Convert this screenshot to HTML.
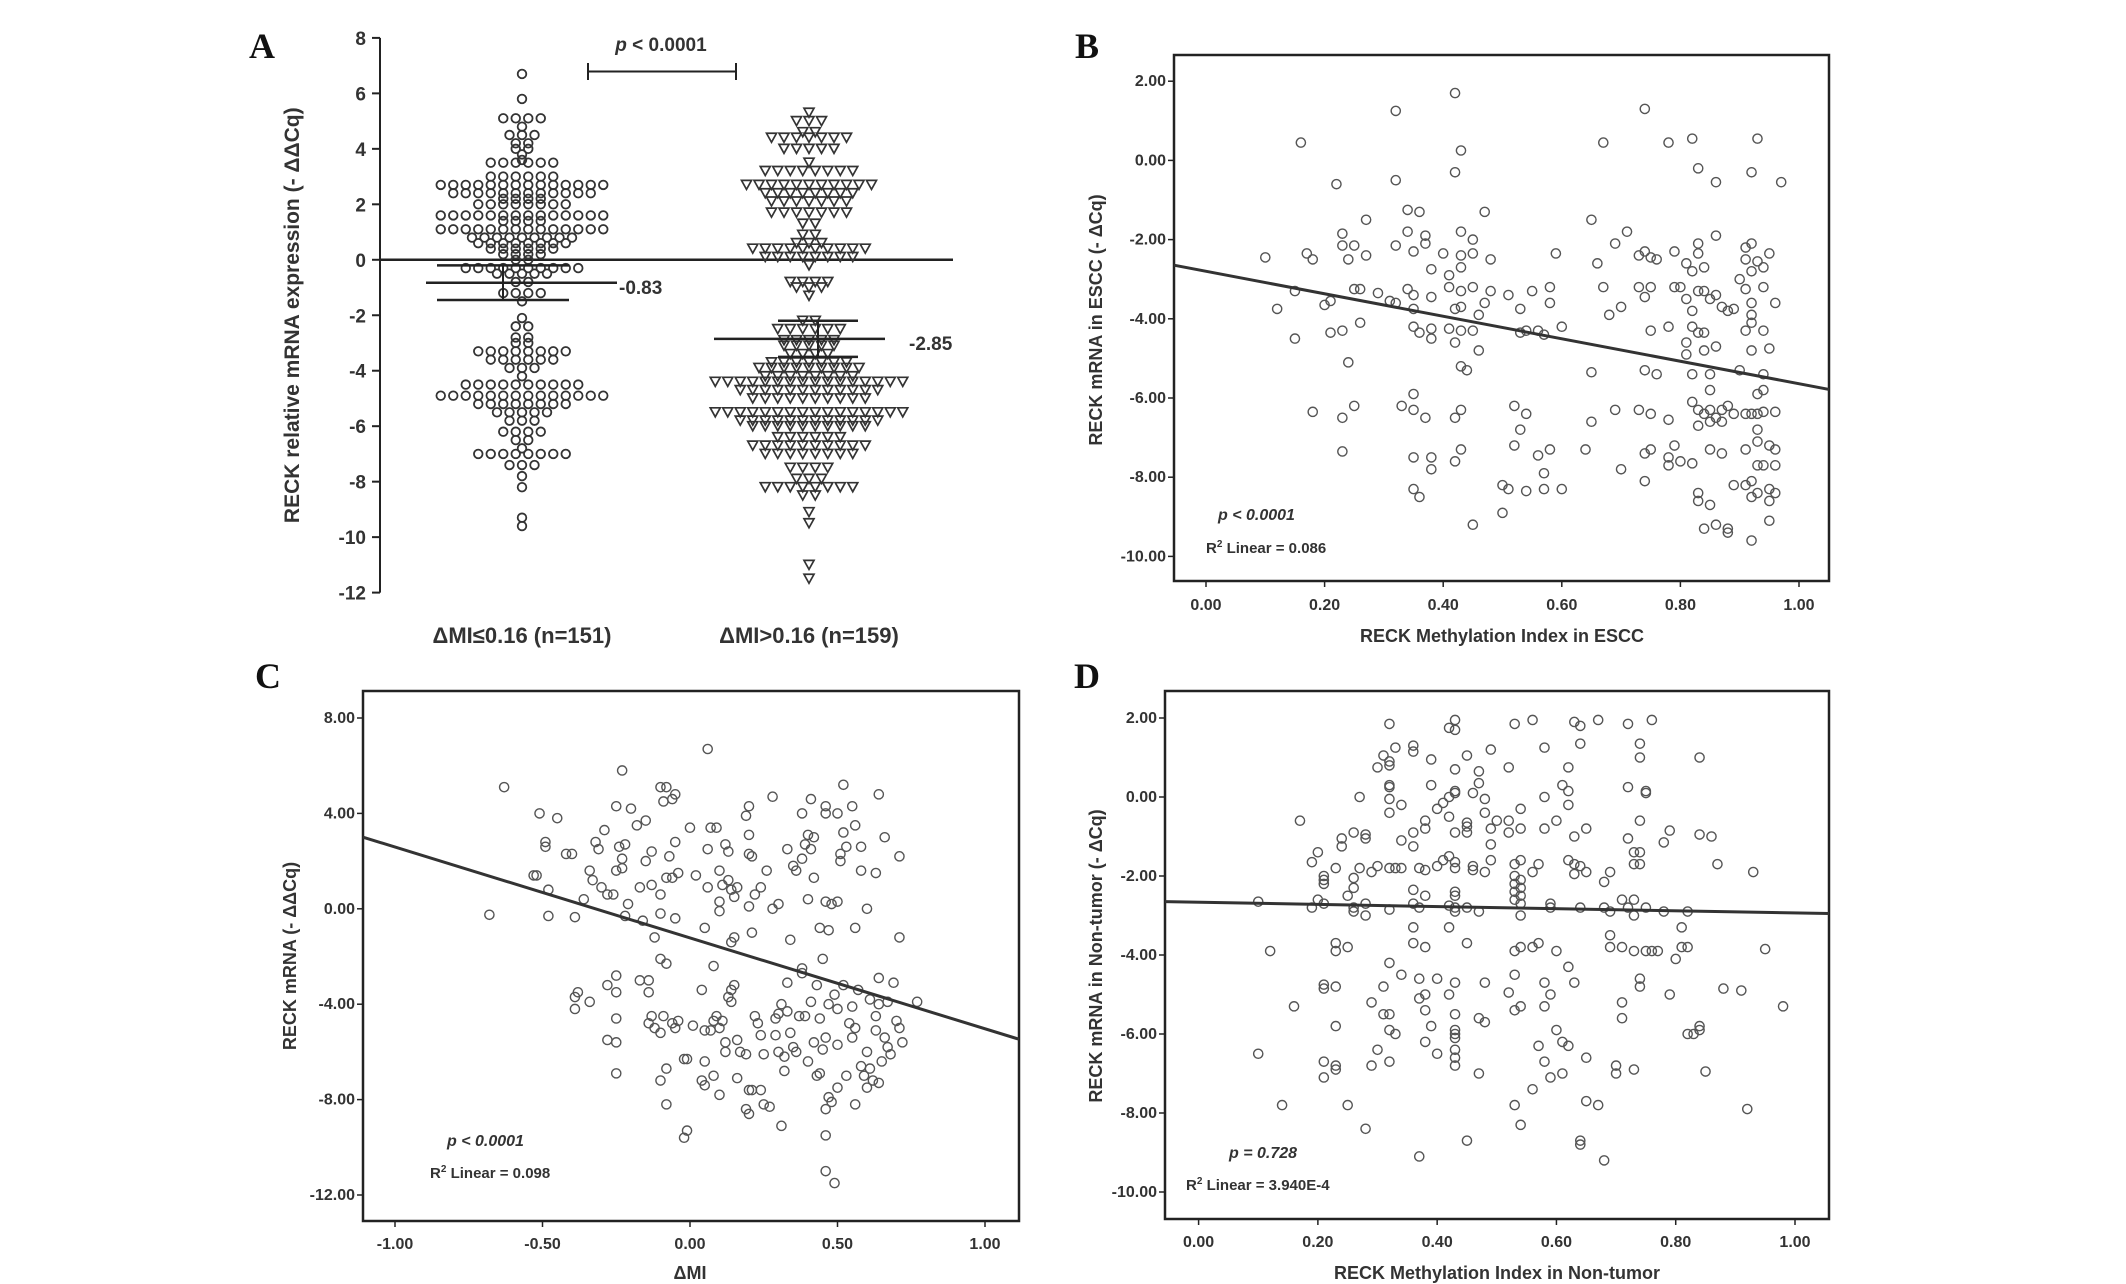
<!DOCTYPE html>
<html><head><meta charset="utf-8"><title>RECK expression vs methylation</title>
<style>
html,body{margin:0;padding:0;background:#fff;}
svg{display:block;font-family:"Liberation Sans",sans-serif;}
.tk{font-size:16px;font-weight:bold;fill:#333;}
.ttl{font-size:18px;font-weight:bold;fill:#333;}
.pl{font-family:"Liberation Serif",serif;font-size:36px;font-weight:bold;fill:#111;}
</style></head>
<body>
<svg id="fig" width="2126" height="1284" viewBox="0 0 2126 1284" xmlns="http://www.w3.org/2000/svg">
<rect width="2126" height="1284" fill="#fff"/>
<g id="pA"></g>
<g id="pB"></g>
<g id="pC"></g>
<g id="pD"></g>
</svg>
<script>
// ---------- Panel A data ----------
const aLevels1 = [6.7,5.8,5.1,4.8,4.5,4.2,4.0,3.8,3.6,3.5,3.0,2.7,2.4,2.2,2.0,1.6,1.4,1.1,0.8,0.6,0.4,0.2,0.0,-0.3,-0.5,-0.8,-1.2,-1.5,-2.1,-2.4,-2.8,-3.0,-3.3,-3.6,-3.9,-4.2,-4.5,-4.9,-5.2,-5.5,-5.8,-6.2,-6.5,-6.8,-7.0,-7.4,-7.8,-8.2,-9.3,-9.6];
const aCounts1 = [1,1,4,1,3,2,2,1,1,6,6,14,12,4,8,14,4,14,9,8,6,4,2,10,5,2,4,1,1,2,2,2,8,6,3,1,10,14,8,5,3,4,2,1,8,3,1,1,1,1];
const aLevels2 = [5.3,5.0,4.6,4.4,4.0,3.5,3.2,2.7,2.4,2.1,1.7,1.3,0.9,0.6,0.4,0.1,-0.2,-0.8,-1.0,-1.3,-2.2,-2.5,-2.9,-3.1,-3.4,-3.7,-3.9,-4.2,-4.4,-4.7,-5.0,-5.5,-5.8,-6.0,-6.4,-6.7,-7.0,-7.5,-7.9,-8.2,-8.5,-9.1,-9.5,-11.0,-11.5];
const aCounts2 = [1,3,2,7,5,1,8,11,8,7,7,2,2,3,10,8,1,4,3,1,2,6,5,5,4,7,9,8,16,12,10,16,12,10,6,10,8,4,3,8,2,1,1,1,1];
const aMeans = [-0.83,-2.85];
const aSemHi = [-0.2,-2.2];
const aSemLo = [-1.45,-3.5];
const aMeanLabels = ["-0.83","-2.85"];
const aCategories = ["ΔMI≤0.16 (n=151)","ΔMI>0.16 (n=159)"];
const aTicks = [8,6,4,2,0,-2,-4,-6,-8,-10,-12];

// ---------- Panel B data ----------
const bX = [0.42,0.32,0.74,0.16,0.43,0.67,0.78,0.82,0.93,0.42,0.32,0.22,0.83,0.86,0.92,0.97,0.34,0.36,0.27,0.47,0.65,0.71,0.86,0.23,0.34,0.37,0.43,0.45,0.23,0.25,0.32,0.37,0.69,0.83,0.92,0.91,0.10,0.17,0.18,0.24,0.27,0.35,0.40,0.43,0.45,0.48,0.59,0.73,0.74,0.75,0.76,0.79,0.83,0.91,0.93,0.95,0.66,0.38,0.41,0.43,0.81,0.82,0.84,0.92,0.94,0.90,0.15,0.25,0.26,0.29,0.31,0.32,0.34,0.35,0.38,0.41,0.43,0.45,0.48,0.51,0.55,0.58,0.67,0.73,0.75,0.79,0.80,0.81,0.83,0.84,0.85,0.86,0.91,0.94,0.74,0.12,0.20,0.21,0.35,0.42,0.43,0.46,0.47,0.53,0.58,0.68,0.70,0.82,0.87,0.88,0.89,0.92,0.92,0.96,0.15,0.21,0.23,0.26,0.35,0.36,0.38,0.38,0.41,0.43,0.45,0.42,0.46,0.53,0.54,0.56,0.57,0.60,0.75,0.78,0.82,0.83,0.84,0.84,0.81,0.81,0.86,0.91,0.92,0.94,0.92,0.95,0.24,0.43,0.44,0.65,0.74,0.76,0.82,0.85,0.90,0.94,0.94,0.85,0.93,0.35,0.18,0.23,0.25,0.33,0.35,0.37,0.42,0.43,0.52,0.54,0.65,0.69,0.73,0.75,0.78,0.82,0.83,0.84,0.85,0.86,0.87,0.88,0.89,0.91,0.92,0.93,0.94,0.96,0.83,0.85,0.87,0.93,0.53,0.23,0.35,0.38,0.42,0.43,0.52,0.56,0.58,0.64,0.74,0.75,0.78,0.79,0.80,0.82,0.85,0.87,0.91,0.93,0.95,0.96,0.93,0.94,0.96,0.78,0.38,0.57,0.70,0.74,0.35,0.36,0.50,0.51,0.54,0.57,0.60,0.83,0.89,0.91,0.92,0.92,0.93,0.95,0.96,0.83,0.85,0.95,0.45,0.50,0.84,0.86,0.88,0.88,0.92,0.95];
const bY = [1.7,1.25,1.3,0.45,0.25,0.45,0.45,0.55,0.55,-0.3,-0.5,-0.6,-0.2,-0.55,-0.3,-0.55,-1.25,-1.3,-1.5,-1.3,-1.5,-1.8,-1.9,-1.85,-1.8,-1.9,-1.8,-2.0,-2.15,-2.15,-2.15,-2.1,-2.1,-2.1,-2.1,-2.2,-2.45,-2.35,-2.5,-2.5,-2.4,-2.3,-2.35,-2.4,-2.35,-2.5,-2.35,-2.4,-2.3,-2.45,-2.5,-2.3,-2.35,-2.5,-2.55,-2.35,-2.6,-2.75,-2.9,-2.7,-2.6,-2.8,-2.7,-2.8,-2.7,-3.0,-3.3,-3.25,-3.25,-3.35,-3.55,-3.6,-3.25,-3.4,-3.45,-3.2,-3.3,-3.2,-3.3,-3.4,-3.3,-3.2,-3.2,-3.2,-3.2,-3.2,-3.2,-3.5,-3.3,-3.3,-3.5,-3.4,-3.25,-3.2,-3.45,-3.75,-3.65,-3.55,-3.75,-3.75,-3.7,-3.9,-3.6,-3.75,-3.6,-3.9,-3.7,-3.8,-3.7,-3.8,-3.75,-3.6,-3.9,-3.6,-4.5,-4.35,-4.3,-4.1,-4.2,-4.35,-4.25,-4.5,-4.25,-4.3,-4.3,-4.6,-4.8,-4.35,-4.3,-4.3,-4.4,-4.2,-4.3,-4.2,-4.2,-4.35,-4.35,-4.8,-4.6,-4.9,-4.7,-4.3,-4.1,-4.3,-4.8,-4.75,-5.1,-5.2,-5.3,-5.35,-5.3,-5.4,-5.4,-5.4,-5.3,-5.4,-5.8,-5.8,-5.9,-5.9,-6.35,-6.5,-6.2,-6.2,-6.3,-6.5,-6.5,-6.3,-6.2,-6.4,-6.6,-6.3,-6.3,-6.4,-6.55,-6.1,-6.3,-6.4,-6.3,-6.5,-6.3,-6.2,-6.4,-6.4,-6.4,-6.4,-6.35,-6.35,-6.7,-6.6,-6.6,-6.8,-6.8,-7.35,-7.5,-7.5,-7.6,-7.3,-7.2,-7.45,-7.3,-7.3,-7.4,-7.3,-7.5,-7.2,-7.6,-7.65,-7.3,-7.4,-7.3,-7.1,-7.2,-7.3,-7.7,-7.7,-7.7,-7.7,-7.8,-7.9,-7.8,-8.1,-8.3,-8.5,-8.2,-8.3,-8.35,-8.3,-8.3,-8.4,-8.2,-8.2,-8.1,-8.5,-8.4,-8.3,-8.4,-8.6,-8.7,-8.6,-9.2,-8.9,-9.3,-9.2,-9.3,-9.4,-9.6,-9.1];
const bFit = [-2.80,-2.84]; // intercept, slope
const bXTicks = [0,0.2,0.4,0.6,0.8,1.0];
const bYTicks = [2,0,-2,-4,-6,-8,-10];

// ---------- Panel C data ----------
const cX = [-0.68,-0.63,-0.51,-0.45,-0.49,-0.49,-0.53,-0.52,-0.48,-0.48,-0.39,-0.42,-0.40,-0.36,-0.34,-0.33,-0.32,-0.31,-0.30,-0.29,-0.28,-0.26,-0.25,-0.25,-0.23,-0.24,-0.23,-0.23,-0.22,-0.20,-0.21,-0.22,-0.18,-0.17,-0.16,-0.15,-0.15,-0.13,-0.12,-0.13,-0.10,-0.08,-0.09,-0.06,-0.05,-0.05,-0.07,-0.06,-0.04,-0.08,-0.10,-0.10,-0.05,0.00,0.02,0.05,0.06,0.06,0.07,0.09,0.06,0.10,0.11,0.10,0.10,0.12,0.13,0.14,0.13,0.15,0.16,0.14,0.15,0.19,0.20,0.20,0.20,0.21,0.20,0.22,0.21,0.24,0.26,0.28,0.28,0.30,0.33,0.34,0.35,0.36,0.38,0.38,0.39,0.40,0.41,0.41,0.42,0.42,0.40,0.44,0.45,0.46,0.46,0.46,0.47,0.48,0.50,0.50,0.51,0.51,0.52,0.52,0.53,0.55,0.56,0.56,0.58,0.58,0.60,0.63,0.64,0.66,0.71,0.71,
-0.38,-0.39,-0.39,-0.34,-0.28,-0.25,-0.25,-0.25,-0.28,-0.25,-0.25,-0.17,-0.14,-0.14,-0.14,-0.13,-0.12,-0.10,-0.09,-0.10,-0.08,-0.06,-0.05,-0.04,-0.10,-0.08,-0.08,-0.01,-0.02,-0.01,-0.02,0.01,0.04,0.05,0.05,0.07,0.08,0.09,0.10,0.08,0.08,0.04,0.05,0.10,0.11,0.12,0.12,0.13,0.14,0.15,0.14,0.16,0.16,0.17,0.19,0.20,0.21,0.19,0.20,0.22,0.23,0.24,0.25,0.24,0.25,0.27,0.29,0.29,0.30,0.31,0.30,0.31,0.32,0.32,0.33,0.33,0.34,0.35,0.36,0.37,0.38,0.38,0.39,0.40,0.41,0.42,0.43,0.43,0.44,0.44,0.45,0.46,0.47,0.46,0.47,0.48,0.46,0.46,0.49,0.49,0.50,0.50,0.50,0.52,0.53,0.54,0.55,0.55,0.56,0.56,0.57,0.58,0.59,0.60,0.60,0.61,0.61,0.62,0.63,0.63,0.64,0.64,0.64,0.65,0.66,0.67,0.67,0.68,0.69,0.70,0.71,0.72,0.77];
const cY = [-0.25,5.1,4.0,3.8,2.8,2.6,1.4,1.4,0.8,-0.3,-0.35,2.3,2.3,0.4,1.6,1.2,2.8,2.5,0.9,3.3,0.6,0.6,1.6,4.3,5.8,2.6,2.1,1.7,2.7,4.2,0.2,-0.3,3.5,0.9,-0.5,3.7,2.0,2.4,-1.2,1.0,5.1,5.1,4.5,4.6,4.8,2.8,2.2,1.3,1.5,1.3,0.6,-0.2,-0.4,3.4,1.4,-0.8,0.9,2.5,3.4,3.4,6.7,1.6,1.0,0.3,-0.1,2.7,2.4,0.8,1.2,0.5,0.9,-1.4,-1.2,3.9,4.3,3.1,2.3,2.2,0.1,0.6,-1.0,0.9,1.6,4.7,0.0,0.2,2.5,-1.3,1.8,1.6,2.1,4.0,2.7,3.1,2.5,4.6,3.0,1.3,0.4,-0.8,-2.1,0.3,4.0,4.3,-0.9,0.2,0.3,4.0,2.3,2.0,5.2,3.2,2.6,4.3,3.5,-0.8,2.6,1.6,0.0,1.5,4.8,3.0,2.2,-1.2,
-3.5,-3.7,-4.2,-3.9,-3.2,-2.8,-3.5,-4.6,-5.5,-5.6,-6.9,-3.0,-3.0,-3.5,-4.8,-4.5,-5.0,-5.2,-4.5,-2.1,-2.3,-4.8,-5.0,-4.7,-7.2,-6.7,-8.2,-6.3,-6.3,-9.3,-9.6,-4.9,-3.4,-5.1,-6.4,-5.1,-4.7,-4.5,-5.0,-2.4,-7.0,-7.2,-7.4,-7.8,-4.7,-5.6,-6.0,-3.7,-3.4,-3.2,-3.9,-5.5,-7.1,-6.0,-6.1,-7.6,-7.6,-8.4,-8.6,-4.5,-4.8,-5.3,-6.1,-7.6,-8.2,-8.3,-4.6,-5.3,-4.4,-4.0,-6.0,-9.1,-6.2,-6.8,-3.1,-4.3,-5.2,-5.8,-6.0,-4.5,-2.5,-2.7,-4.5,-6.4,-3.9,-5.6,-3.2,-7.0,-4.6,-6.9,-5.9,-5.4,-4.0,-8.4,-7.9,-8.1,-9.5,-11.0,-11.5,-3.6,-4.2,-5.7,-7.5,-3.2,-7.0,-4.8,-4.1,-5.4,-5.0,-8.2,-3.4,-6.6,-7.0,-6.0,-7.5,-6.7,-3.8,-7.2,-4.5,-5.1,-7.3,-2.9,-4.0,-6.4,-5.4,-5.8,-3.9,-6.1,-3.1,-4.7,-5.0,-5.6,-3.9];
const cFit = [-1.22,-3.81];
const cXTicks = [-1,-0.5,0,0.5,1];
const cYTicks = [8,4,0,-4,-8,-12];

// ---------- Panel D data ----------
const dX = [0.32,0.43,0.43,0.42,0.53,0.56,0.63,0.64,0.67,0.72,0.76,0.33,0.36,0.36,0.39,0.31,0.32,0.30,0.32,0.45,0.49,0.58,0.64,0.74,0.74,0.84,0.43,0.47,0.52,0.62,0.32,0.32,0.39,0.43,0.43,0.46,0.47,0.61,0.62,0.72,0.75,0.75,0.27,0.32,0.32,0.34,0.42,0.41,0.40,0.42,0.48,0.48,0.54,0.58,0.62,0.17,0.38,0.45,0.45,0.50,0.52,0.60,0.74,0.36,0.38,0.43,0.45,0.49,0.52,0.54,0.58,0.63,0.65,0.79,0.84,0.86,0.24,0.24,0.26,0.28,0.28,0.34,0.36,0.49,0.72,0.73,0.74,0.78,0.20,0.19,0.23,0.27,0.29,0.30,0.32,0.33,0.34,0.37,0.38,0.40,0.41,0.42,0.43,0.43,0.46,0.46,0.48,0.49,0.53,0.54,0.56,0.57,0.62,0.63,0.63,0.64,0.65,0.69,0.73,0.74,0.87,0.93,0.21,0.21,0.21,0.26,0.25,0.26,0.36,0.38,0.43,0.43,0.53,0.53,0.53,0.54,0.54,0.54,0.68,0.10,0.19,0.20,0.21,0.26,0.26,0.28,0.28,0.32,0.36,0.37,0.42,0.43,0.43,0.45,0.47,0.53,0.54,0.54,0.59,0.59,0.64,0.68,0.69,0.71,0.72,0.73,0.73,0.75,0.78,0.82,0.36,0.42,0.69,0.81,0.23,0.23,0.25,0.12,0.36,0.38,0.45,0.53,0.54,0.56,0.57,0.60,0.69,0.71,0.73,0.75,0.76,0.77,0.81,0.82,0.80,0.95,0.32,0.34,0.37,0.40,0.43,0.48,0.53,0.58,0.62,0.63,0.74,0.74,0.21,0.21,0.23,0.31,0.38,0.37,0.42,0.52,0.59,0.79,0.88,0.91,0.16,0.29,0.31,0.32,0.38,0.43,0.47,0.48,0.53,0.54,0.58,0.71,0.71,0.98,0.23,0.32,0.33,0.38,0.39,0.43,0.43,0.43,0.60,0.82,0.83,0.84,0.84,0.61,0.57,0.10,0.30,0.40,0.43,0.43,0.62,0.21,0.23,0.23,0.29,0.32,0.43,0.47,0.58,0.65,0.70,0.70,0.73,0.85,0.21,0.59,0.61,0.56,0.14,0.25,0.53,0.65,0.67,0.92,0.28,0.54,0.45,0.64,0.64,0.37,0.68];
const dY = [1.85,1.95,1.7,1.75,1.85,1.95,1.9,1.8,1.95,1.85,1.95,1.25,1.3,1.15,0.95,1.05,0.9,0.75,0.8,1.05,1.2,1.25,1.35,1.35,1.0,1.0,0.7,0.65,0.75,0.75,0.3,0.25,0.3,0.1,0.15,0.1,0.35,0.3,0.15,0.25,0.15,0.1,0.0,-0.05,-0.4,-0.2,0.0,-0.15,-0.3,-0.5,-0.05,-0.4,-0.3,0.0,-0.2,-0.6,-0.6,-0.65,-0.75,-0.6,-0.6,-0.6,-0.6,-0.9,-0.8,-0.9,-0.9,-0.8,-0.9,-0.8,-0.8,-1.0,-0.8,-0.85,-0.95,-1.0,-1.05,-1.25,-0.9,-0.95,-1.05,-1.1,-1.25,-1.2,-1.05,-1.4,-1.4,-1.15,-1.4,-1.65,-1.8,-1.8,-1.9,-1.75,-1.8,-1.8,-1.8,-1.8,-1.85,-1.75,-1.6,-1.5,-1.65,-1.8,-1.75,-1.85,-1.9,-1.6,-1.7,-1.6,-1.9,-1.7,-1.6,-1.7,-1.95,-1.75,-1.9,-1.9,-1.7,-1.7,-1.7,-1.9,-2.0,-2.2,-2.1,-2.05,-2.5,-2.3,-2.35,-2.5,-2.4,-2.5,-2.0,-2.2,-2.4,-2.1,-2.3,-2.5,-2.15,-2.65,-2.8,-2.6,-2.7,-2.8,-2.9,-2.7,-3.0,-2.85,-2.7,-2.8,-2.75,-2.8,-2.9,-2.8,-2.9,-2.6,-2.7,-3.0,-2.7,-2.8,-2.8,-2.8,-2.9,-2.6,-2.8,-2.6,-3.0,-2.8,-2.9,-2.9,-3.3,-3.3,-3.5,-3.3,-3.7,-3.9,-3.8,-3.9,-3.7,-3.8,-3.7,-3.9,-3.8,-3.8,-3.7,-3.9,-3.8,-3.8,-3.9,-3.9,-3.9,-3.9,-3.8,-3.8,-4.1,-3.85,-4.2,-4.5,-4.6,-4.6,-4.7,-4.7,-4.5,-4.7,-4.3,-4.7,-4.6,-4.8,-4.75,-4.85,-4.8,-4.8,-5.0,-5.1,-5.0,-4.95,-5.0,-5.0,-4.85,-4.9,-5.3,-5.2,-5.5,-5.5,-5.4,-5.5,-5.6,-5.7,-5.4,-5.3,-5.3,-5.2,-5.6,-5.3,-5.8,-5.9,-6.0,-6.2,-5.8,-5.9,-6.0,-6.1,-5.9,-6.0,-6.0,-5.8,-5.9,-6.2,-6.3,-6.5,-6.4,-6.5,-6.4,-6.6,-6.3,-6.7,-6.8,-6.9,-6.8,-6.7,-6.8,-7.0,-6.7,-6.6,-6.8,-7.0,-6.9,-6.95,-7.1,-7.1,-7.0,-7.4,-7.8,-7.8,-7.8,-7.7,-7.8,-7.9,-8.4,-8.3,-8.7,-8.7,-8.8,-9.1,-9.2];
const dFit = [-2.665,-0.27];
const dXTicks = [0,0.2,0.4,0.6,0.8,1.0];
const dYTicks = [2,0,-2,-4,-6,-8,-10];

const NS = "http://www.w3.org/2000/svg";
function el(parent, tag, attrs, text) {
  const e = document.createElementNS(NS, tag);
  for (const k in attrs) e.setAttribute(k, attrs[k]);
  if (text !== undefined) e.textContent = text;
  parent.appendChild(e);
  return e;
}

// ---------- Panel A ----------
(function () {
  const g = document.getElementById('pA');
  const axX = 380, y0 = 37.9, y1 = 592.6, vMax = 8, vMin = -12;
  const yS = v => y0 + (vMax - v) / (vMax - vMin) * (y1 - y0);
  const centers = [522, 809];
  let t = el(g, 'text', {x: 262, y: 58, class: 'pl', 'text-anchor': 'middle'}, 'A');
  
  
  let ax = el(g, 'line', {x1: axX, y1: y0, x2: axX, y2: y1, stroke: '#222', 'stroke-width': 2});
  
  
  aTicks.forEach(v => {
    const tl = el(g, 'line', {x1: axX - 8, y1: yS(v), x2: axX, y2: yS(v), stroke: '#222', 'stroke-width': 2});
    
    
    const tx = el(g, 'text', {x: axX - 14, y: yS(v) + 7, 'text-anchor': 'end', style: 'font-size:19px;font-weight:bold;fill:#333'}, String(v));
    
    
  });
  const yt = el(g, 'text', {x: 0, y: 0, transform: 'translate(299,' + ((y0 + y1) / 2) + ') rotate(-90)', 'text-anchor': 'middle', style: 'font-size:21px;font-weight:bold;fill:#333'}, 'RECK relative mRNA expression (- ΔΔCq)');
  
  
  const zl = el(g, 'line', {x1: axX, y1: yS(0), x2: 953, y2: yS(0), stroke: '#222', 'stroke-width': 2.5});
  
  
  const sp = 12.5;
  function swarm(levels, counts, cx, shape, name) {
    levels.forEach((v, i) => {
      const n = counts[i];
      for (let j = 0; j < n; j++) {
        const x = cx + (j - (n - 1) / 2) * sp;
        const y = yS(v);
        let m;
        if (shape === 'c') {
          m = el(g, 'circle', {cx: x, cy: y, r: 4.3, fill: 'none', stroke: '#333', 'stroke-width': 1.8});
        } else {
          m = el(g, 'path', {d: `M${x - 5},${y - 4.5} L${x + 5},${y - 4.5} L${x},${y + 4.5} Z`, fill: 'none', stroke: '#333', 'stroke-width': 1.7});
        }
        
        
      }
    });
  }
  swarm(aLevels1, aCounts1, centers[0], 'c', 'point-low-dmi');
  swarm(aLevels2, aCounts2, centers[1], 't', 'point-high-dmi');
  const meanSpan = [[426, 617], [714, 885]];
  const semSpan = [[437, 569], [778, 858]];
  const labX = [619, 909];
  for (let k = 0; k < 2; k++) {
    const ml = el(g, 'line', {x1: meanSpan[k][0], y1: yS(aMeans[k]), x2: meanSpan[k][1], y2: yS(aMeans[k]), stroke: '#222', 'stroke-width': 2.5});
    
    
    [aSemHi[k], aSemLo[k]].forEach(v => {
      const sl = el(g, 'line', {x1: semSpan[k][0], y1: yS(v), x2: semSpan[k][1], y2: yS(v), stroke: '#222', 'stroke-width': 2.5});
      
      
    });
    const cxm = (semSpan[k][0] + semSpan[k][1]) / 2;
    const vl = el(g, 'line', {x1: cxm, y1: yS(aSemHi[k]), x2: cxm, y2: yS(aSemLo[k]), stroke: '#222', 'stroke-width': 2});
    
    
    const lt = el(g, 'text', {x: labX[k], y: yS(aMeans[k]) + 39 - 28, style: 'font-size:19px;font-weight:bold;fill:#333'}, aMeanLabels[k]);
    
    
    const cl = el(g, 'text', {x: centers[k], y: 643, 'text-anchor': 'middle', style: 'font-size:22px;font-weight:bold;fill:#333'}, aCategories[k]);
    
    
  }
  const br = el(g, 'path', {d: 'M588,63 L588,80 M588,71.5 L736,71.5 M736,63 L736,80', stroke: '#222', 'stroke-width': 2, fill: 'none'});
  
  
  const pt = el(g, 'text', {x: 661, y: 51, 'text-anchor': 'middle', style: 'font-size:19px;font-weight:bold;fill:#333'});
  
  
  el(pt, 'tspan', {'font-style': 'italic'}, 'p');
  el(pt, 'tspan', {}, ' < 0.0001');
})();

// ---------- Scatter panels ----------
function scatter(cfg) {
  const g = document.getElementById(cfg.id);
  const xS = v => cfg.x0px + (v - cfg.x0v) * cfg.xPer;
  const yS = v => cfg.y0px + (cfg.y0v - v) * cfg.yPer;
  const lab = el(g, 'text', {x: cfg.lab[0], y: cfg.lab[1], class: 'pl', 'text-anchor': 'middle'}, cfg.letter);
  
  
  const box = el(g, 'rect', {x: cfg.box[0], y: cfg.box[1], width: cfg.box[2] - cfg.box[0], height: cfg.box[3] - cfg.box[1], fill: 'none', stroke: '#222', 'stroke-width': 2.5});
  
  
  cfg.xt.forEach(v => {
    const x = xS(v);
    const tl = el(g, 'line', {x1: x, y1: cfg.box[3], x2: x, y2: cfg.box[3] + 6, stroke: '#222', 'stroke-width': 1.5});
    
    
    const tx = el(g, 'text', {x: x, y: cfg.xtY, 'text-anchor': 'middle', class: 'tk'}, v.toFixed(2));
    
    
  });
  cfg.yt.forEach(v => {
    const y = yS(v);
    const tl = el(g, 'line', {x1: cfg.box[0] - 6, y1: y, x2: cfg.box[0], y2: y, stroke: '#222', 'stroke-width': 1.5});
    
    
    const tx = el(g, 'text', {x: cfg.box[0] - 8, y: y + 5, 'text-anchor': 'end', class: 'tk'}, v.toFixed(2));
    
    
  });
  const xt = el(g, 'text', {x: cfg.xTitle[0], y: cfg.xTitle[1], 'text-anchor': 'middle', class: 'ttl'}, cfg.xLabel);
  
  
  const yt = el(g, 'text', {x: 0, y: 0, transform: `translate(${cfg.yTitle[0]},${cfg.yTitle[1]}) rotate(-90)`, 'text-anchor': 'middle', class: 'ttl'}, cfg.yLabel);
  
  
  cfg.xs.forEach((xv, i) => {
    const c = el(g, 'circle', {cx: xS(xv), cy: yS(cfg.ys[i]), r: 4.6, fill: 'none', stroke: '#555', 'stroke-width': 1.4});
    
    
  });
  const xa = (cfg.box[0] - cfg.x0px) / cfg.xPer + cfg.x0v;
  const xb = (cfg.box[2] - cfg.x0px) / cfg.xPer + cfg.x0v;
  const fl = el(g, 'line', {x1: cfg.box[0], y1: yS(cfg.fit[0] + cfg.fit[1] * xa), x2: cfg.box[2], y2: yS(cfg.fit[0] + cfg.fit[1] * xb), stroke: '#333', 'stroke-width': 3});
  
  
  const pt = el(g, 'text', {x: cfg.pPos[0], y: cfg.pPos[1], style: 'font-size:16px;font-weight:bold;font-style:italic;fill:#333'}, cfg.pText);
  
  
  const rt = el(g, 'text', {x: cfg.rPos[0], y: cfg.rPos[1], style: 'font-size:15px;font-weight:bold;fill:#333'});
  
  
  el(rt, 'tspan', {}, 'R');
  el(rt, 'tspan', {dy: -6, style: 'font-size:10px'}, '2');
  el(rt, 'tspan', {dy: 6}, ' Linear = ' + cfg.r2);
}

scatter({id: 'pB', name: 'panel-b', letter: 'B', lab: [1087, 58], box: [1174, 55, 1829, 581],
  x0v: 0, x0px: 1206, xPer: 593, y0v: 2, y0px: 81.2, yPer: 39.6,
  xt: bXTicks, yt: bYTicks, xtY: 610, xTitle: [1502, 642], yTitle: [1102, 320],
  xLabel: 'RECK Methylation Index in ESCC', yLabel: 'RECK mRNA in ESCC (- ΔCq)',
  xs: bX, ys: bY, fit: bFit, pPos: [1218, 520], pText: 'p < 0.0001', rPos: [1206, 553], r2: '0.086'});

scatter({id: 'pC', name: 'panel-c', letter: 'C', lab: [268, 688], box: [363, 691, 1019, 1221],
  x0v: 0, x0px: 690, xPer: 295, y0v: 8, y0px: 718, yPer: 23.85,
  xt: cXTicks, yt: cYTicks, xtY: 1249, xTitle: [690, 1279], yTitle: [296, 956],
  xLabel: 'ΔMI', yLabel: 'RECK mRNA (- ΔΔCq)',
  xs: cX, ys: cY, fit: cFit, pPos: [447, 1146], pText: 'p < 0.0001', rPos: [430, 1178], r2: '0.098'});

scatter({id: 'pD', name: 'panel-d', letter: 'D', lab: [1087, 688], box: [1165, 691, 1829, 1219],
  x0v: 0, x0px: 1198.6, xPer: 596.4, y0v: 2, y0px: 718, yPer: 39.5,
  xt: dXTicks, yt: dYTicks, xtY: 1247, xTitle: [1497, 1279], yTitle: [1102, 956],
  xLabel: 'RECK Methylation Index in Non-tumor', yLabel: 'RECK mRNA in Non-tumor (- ΔCq)',
  xs: dX, ys: dY, fit: dFit, pPos: [1229, 1158], pText: 'p = 0.728', rPos: [1186, 1190], r2: '3.940E-4'});
</script>
</body></html>
